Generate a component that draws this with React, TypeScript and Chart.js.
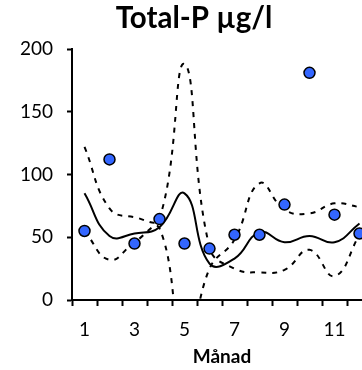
import React, { useEffect, useRef } from "react";
import { Chart, registerables } from "chart.js";

Chart.register(...registerables);

const months = ["1", "2", "3", "4", "5", "6", "7", "8", "9", "10", "11", "12"];
const measured = [55, 112, 45, 64.5, 45, 41, 52, 52, 76, 181, 68, 53];
const median = [85, 51, 53, 58, 85, 29, 33, 54, 46, 51, 46, 61];
const curveA = [122, 73, 66, 65, 188, 42, 25, 22, 24, 40, 19, 52];
const curveB = [55, 32, 46, 57, -45, 25, 48, 93, 72, 69, 77, 74];
const yTicks = [0, 50, 100, 150, 200];

const FONT = "Lato, 'Open Sans', sans-serif";

export default function App() {
  const ref = useRef<HTMLCanvasElement | null>(null);
  useEffect(() => {
    const canvas = ref.current;
    if (!canvas) return;
    const chart = new Chart(canvas, {
      type: "line",
      data: {
        labels: months,
        datasets: [
          {
            label: "Mätvärden",
            data: measured,
            showLine: false,
            pointRadius: 5.5,
            pointBackgroundColor: "#3366ff",
            pointBorderColor: "#000000",
            pointBorderWidth: 1.5,
          },
          {
            label: "Median",
            data: median,
            borderColor: "#000000",
            borderWidth: 2,
            pointRadius: 0,
            tension: 0.45,
          },
          {
            label: "Kurva A",
            data: curveA,
            borderColor: "#000000",
            borderWidth: 2,
            borderDash: [5, 6],
            pointRadius: 0,
            tension: 0.45,
          },
          {
            label: "Kurva B",
            data: curveB,
            borderColor: "#000000",
            borderWidth: 2,
            borderDash: [5, 6],
            pointRadius: 0,
            tension: 0.45,
          },
        ],
      },
      options: {
        responsive: false,
        animation: false,
        layout: { padding: { left: 16, right: 8, top: 0, bottom: 0 } },
        plugins: {
          legend: { display: false },
          tooltip: { enabled: false },
          title: {
            display: true,
            text: "Total-P µg/l",
            color: "#000000",
            font: { family: FONT, size: 29.5, weight: "bold", lineHeight: 1.2 },
            padding: { top: 0.5, bottom: 13.1 },
          },
        },
        scales: {
          x: {
            type: "category",
            offset: true,
            grid: {
              offset: true,
              drawOnChartArea: false,
              drawTicks: true,
              tickLength: 6,
              tickWidth: 2,
              tickColor: "#000000",
            },
            border: { display: true, color: "#000000", width: 2 },
            ticks: {
              color: "#000000",
              font: { family: FONT, size: 19 },
              padding: 12,
              maxRotation: 0,
              autoSkip: false,
              callback: (_v: any, i: number) => (i % 2 === 0 ? months[i] : ""),
            },
            title: {
              display: true,
              text: "Månad",
              color: "#000000",
              font: { family: FONT, size: 19, weight: "bold", lineHeight: 1.2 },
              padding: { top: 0, bottom: 2 },
            },
            afterFit: (s: any) => {
              s.height = 70;
            },
          },
          y: {
            min: 0,
            max: 200,
            afterBuildTicks: (s: any) => {
              s.ticks = yTicks.map((v) => ({ value: v }));
            },
            grid: {
              drawOnChartArea: false,
              drawTicks: true,
              tickLength: 5,
              tickWidth: 2,
              tickColor: "#000000",
            },
            border: { display: true, color: "#000000", width: 2 },
            ticks: {
              color: "#000000",
              font: { family: FONT, size: 19 },
              padding: 14,
            },
            afterFit: (s: any) => {
              s.width = 56;
            },
          },
        },
      },
    });
    return () => chart.destroy();
  }, []);
  return (
    <div
      style={{
        position: "fixed",
        left: 0,
        top: 0,
        width: 362,
        height: 370,
        overflow: "hidden",
        background: "#ffffff",
      }}
    >
      <canvas ref={ref} width={380} height={370} style={{ display: "block" }} />
    </div>
  );
}
